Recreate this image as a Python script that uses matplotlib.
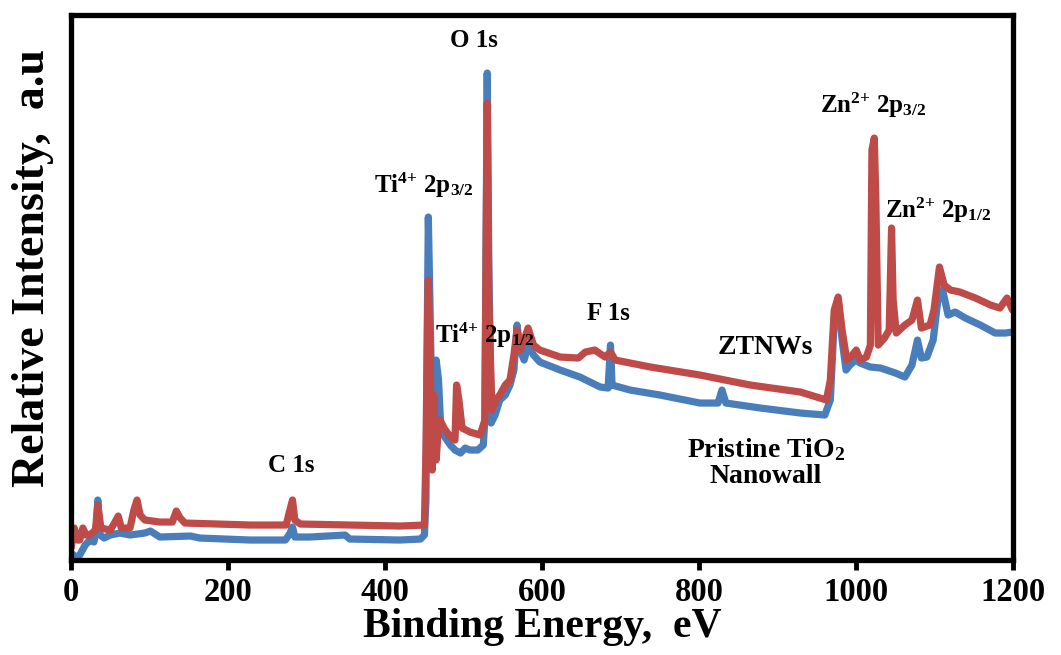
import matplotlib
matplotlib.use("Agg")
import matplotlib.pyplot as plt

plt.rcParams["font.family"] = "Liberation Serif"
plt.rcParams["font.weight"] = "bold"
plt.rcParams["axes.labelweight"] = "bold"
plt.rcParams["mathtext.fontset"] = "custom"
plt.rcParams["mathtext.rm"] = "Liberation Serif:bold"
plt.rcParams["mathtext.it"] = "Liberation Serif:bold"
plt.rcParams["mathtext.bf"] = "Liberation Serif:bold"

# pristine TiO2 nanowall (blue)
tio2_ev = [0, 6, 11, 18, 24, 29, 32, 34, 37, 42, 50, 62, 75, 94, 101, 113, 152, 164, 228, 273,
           279, 282, 285, 304, 349, 355, 419, 445, 450, 452, 454, 455, 457, 460, 462, 465, 468,
           471, 476, 483, 489, 496, 502, 508, 518, 525, 527, 530, 532, 535, 540, 546, 553, 559,
           564, 568, 572, 577, 582, 589, 597, 623, 648, 674, 684, 687, 689, 712, 750, 801, 824,
           829, 834, 878, 929, 960, 967, 972, 977, 982, 987, 992, 999, 1005, 1018, 1031, 1050,
           1062, 1071, 1078, 1083, 1090, 1098, 1104, 1110, 1117, 1126, 1139, 1158, 1177, 1190, 1199]
tio2_int = [7, 3, 5, 15, 20, 18, 30, 60, 25, 22, 25, 27, 25, 27, 29, 23, 24, 22, 20, 20,
            27, 33, 23, 23, 25, 21, 20, 21, 25, 60, 260, 343, 260, 130, 160, 200, 180,
            130, 123, 115, 110, 107, 112, 110, 110, 115, 140, 487, 300, 137, 145, 160, 165, 175,
            190, 235, 210, 200, 215, 205, 198, 190, 183, 173, 172, 215, 175, 170, 165, 157, 157,
            170, 157, 152, 147, 145, 160, 240, 260, 220, 190, 195, 200, 197, 193, 192, 187,
            183, 195, 220, 202, 203, 220, 260, 270, 245, 248, 242, 235, 227, 227, 228]

# ZTNWs (red)
ztnw_ev = [0, 4, 8, 11, 15, 19, 24, 31, 34, 38, 50, 56, 60, 64, 75, 80, 84, 88, 94, 113, 129,
           134, 139, 145, 228, 274, 277, 282, 285, 292, 419, 450, 452, 454, 455, 457, 460, 462,
           465, 468, 470, 475, 483, 489, 491, 494, 498, 508, 521, 527, 530, 532, 536, 541, 546,
           553, 559, 564, 568, 572, 577, 582, 589, 597, 623, 646, 655, 667, 680, 687, 693, 738,
           801, 865, 929, 962, 967, 972, 977, 982, 988, 995, 1000, 1005, 1013, 1018, 1020, 1023,
           1025, 1028, 1036, 1042, 1045, 1047, 1051, 1062, 1071, 1078, 1083, 1094, 1099, 1106,
           1112, 1120, 1132, 1152, 1171, 1183, 1192, 1199]
ztnw_int = [12, 32, 20, 20, 32, 25, 25, 30, 55, 32, 30, 38, 44, 32, 32, 50, 60, 45, 40, 38, 38,
            49, 42, 37, 35, 35, 45, 60, 40, 36, 34, 35, 110, 240, 280, 210, 90, 165,
            100, 135, 140, 132, 123, 120, 175, 160, 132, 128, 125, 140, 457, 260, 150, 160, 165,
            175, 180, 205, 230, 210, 220, 232, 215, 210, 203, 202, 208, 210, 203, 208, 200, 193,
            185, 175, 168, 160, 180, 250, 263, 230, 200, 205, 210, 200, 203, 215, 410, 422,
            360, 215, 222, 230, 332, 260, 227, 235, 240, 260, 232, 235, 250, 293,
            275, 270, 268, 262, 255, 252, 262, 250]

xticks = [0, 200, 400, 600, 800, 1000, 1200]

fig = plt.figure(figsize=(10.61, 6.55), dpi=100)
ax = fig.add_axes([0.067, 0.145, 0.888, 0.832])

ax.plot(tio2_ev, tio2_int, color="#4A7EBB", lw=5.2, solid_capstyle="round", solid_joinstyle="round")
ax.plot(ztnw_ev, ztnw_int, color="#BE4B48", lw=5.2, solid_capstyle="round", solid_joinstyle="round")

ax.set_xlim(0, 1200)
ax.set_ylim(0, 545)
ax.set_xticks(xticks)
ax.set_yticks([])
ax.tick_params(axis="x", direction="out", length=7, width=3.5, labelsize=23.5, pad=5)
for s in ax.spines.values():
    s.set_linewidth(3.8)

ax.set_xlabel("Binding Energy,  eV", fontsize=30, fontweight="bold", labelpad=0)
ax.set_ylabel("Relative Intensity,  a.u", fontsize=33, fontweight="bold")
ax.yaxis.set_label_coords(-0.018, 0.535)

fs = 18
ax.text(513, 520, "O 1s", fontsize=fs, ha="center", va="center")
ax.text(449, 375, r"Ti$^{4{+}}$ 2p$_{3/2}$", fontsize=fs, ha="center", va="center")
ax.text(527, 225, r"Ti$^{4{+}}$ 2p$_{1/2}$", fontsize=fs, ha="center", va="center")
ax.text(684, 247, "F 1s", fontsize=fs, ha="center", va="center")
ax.text(280, 95, "C 1s", fontsize=fs, ha="center", va="center")
ax.text(884, 213, "ZTNWs", fontsize=20, ha="center", va="center")
ax.text(885, 97, "Pristine TiO$_2$\nNanowall", fontsize=20, ha="center", va="center",
        linespacing=1.05)
ax.text(1022, 455, r"Zn$^{2{+}}$ 2p$_{3/2}$", fontsize=fs, ha="center", va="center")
ax.text(1104, 350, r"Zn$^{2{+}}$ 2p$_{1/2}$", fontsize=fs, ha="center", va="center")

plt.savefig("out.png", dpi=100)
